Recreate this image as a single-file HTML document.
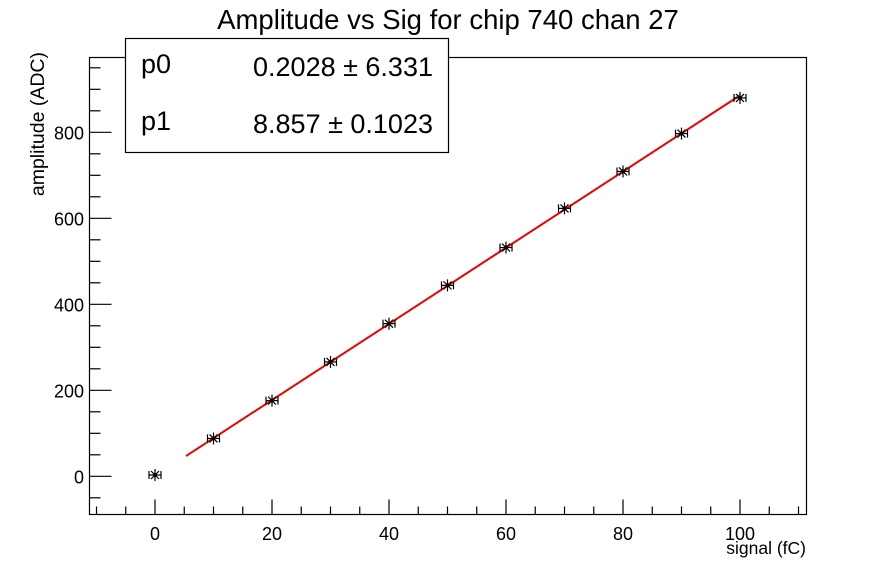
<!DOCTYPE html>
<html><head><meta charset="utf-8"><style>
html,body{margin:0;padding:0;background:#fff;}
svg{display:block;font-family:"Liberation Sans",Arial,sans-serif;}
</style></head><body>
<svg id="s" width="896" height="572" viewBox="0 0 896 572" xmlns="http://www.w3.org/2000/svg">
<rect width="896" height="572" fill="#fff"/>
<text x="448" y="29" font-size="27.5" text-anchor="middle">Amplitude vs Sig for chip 740 chan 27</text>
<rect x="89.5" y="57.5" width="717" height="457" fill="none" stroke="#000" stroke-width="1.2"/>
<g id="ticks" stroke="#000" stroke-width="1.2"></g>
<g id="lab" font-size="18"></g>
<text x="806" y="554" font-size="17.5" text-anchor="end">signal (fC)</text>
<text transform="translate(44,52) rotate(-90)" font-size="19.5" text-anchor="end">amplitude (ADC)</text>
<g id="data"></g>
<rect x="125.5" y="38.5" width="323" height="114" fill="#fff" stroke="#000" stroke-width="1.2"/>
<text x="141" y="73" font-size="27">p0</text>
<text x="433" y="76" font-size="27" text-anchor="end">0.2028 ± 6.331</text>
<text x="141" y="130" font-size="27">p1</text>
<text x="433" y="133" font-size="27" text-anchor="end">8.857 ± 0.1023</text>
</svg>
<script>
var NS="http://www.w3.org/2000/svg";
function X(v){return 155+v*5.85;}
function Y(v){return 476.3-v*0.43;}
function el(p,t,a,txt){var e=document.createElementNS(NS,t);for(var k in a)e.setAttribute(k,a[k]);if(txt!=null)e.textContent=txt;document.getElementById(p).appendChild(e);return e;}
for(var v=-10;v<=110;v+=5){var big=v%20==0;var x=X(v);el("ticks","line",{x1:x,x2:x,y1:514.5,y2:514.5-(big?15:8)});if(big)el("lab","text",{x:x,y:540,"text-anchor":"middle"},v);}
for(var v=-50;v<=950;v+=50){var big=v%200==0;var y=Y(v);el("ticks","line",{x1:89.5,x2:89.5+(big?22:11),y1:y,y2:y});if(big)el("lab","text",{x:84,y:y+7,"text-anchor":"end"},v);}
el("data","line",{x1:X(5.3),y1:Y(0.2028+8.857*5.3),x2:X(100),y2:Y(0.2028+8.857*100),stroke:"#e00", "stroke-width":2});
var d=[[0,3],[10,88],[20,176],[30,266],[40,355],[50,444],[60,532],[70,623],[80,709],[90,797],[100,880]];
d.forEach(function(p){var x=X(p[0]),y=Y(p[1]);var g={stroke:"#000","stroke-width":1.2};
el("data","line",Object.assign({x1:x-6,x2:x+6,y1:y,y2:y},g));
el("data","line",Object.assign({x1:x-6,x2:x-6,y1:y-4,y2:y+4},g));
el("data","line",Object.assign({x1:x+6,x2:x+6,y1:y-4,y2:y+4},g));
el("data","line",Object.assign({x1:x,x2:x,y1:y-6,y2:y+6},g));
el("data","line",Object.assign({x1:x-4,x2:x+4,y1:y-4,y2:y+4},g));
el("data","line",Object.assign({x1:x-4,x2:x+4,y1:y+4,y2:y-4},g));
el("data","circle",{cx:x,cy:y,r:2,fill:"#000"});});
</script>
</body></html>
